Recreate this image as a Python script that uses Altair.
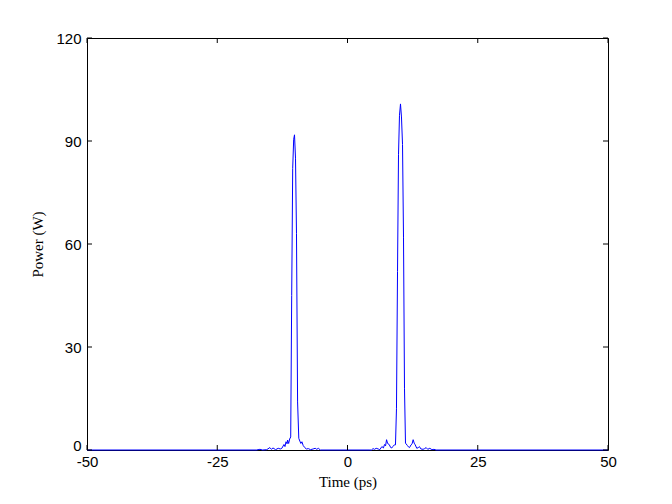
import altair as alt
import pandas as pd

# Time (ps) and power (W) samples
time_ps = [
    -50.0, -17.5, -16.8, -16.3, -15.5, -14.9, -14.6, -14.3, -13.8, -13.3, -12.9, -12.6,
    -12.2, -12.0, -11.8, -11.6, -11.5, -11.3, -11.1,
    -10.90, -10.71, -10.52, -10.33, -10.17, -9.98, -9.79, -9.58, -9.35,
    -9.15, -8.95, -8.75, -8.5, -8.2, -7.9, -7.5, -7.1, -6.6, -6.2, -5.9, -5.6, -5.2,
    4.3, 4.6, 4.9, 5.2, 5.5, 5.9, 6.2, 6.6, 6.9, 7.1, 7.3, 7.5, 7.7, 8.0, 8.3, 8.5, 8.7, 9.0,
    9.21, 9.40, 9.60, 9.79, 9.98, 10.17, 10.36, 10.56, 10.75, 10.94, 11.13,
    11.5, 11.7, 11.9, 12.2, 12.4, 12.6, 12.8, 13.0, 13.3, 13.6, 13.8, 14.1, 14.5, 14.8,
    15.1, 15.4, 15.8, 16.2, 16.6, 17.0, 50.0,
]
power_w = [
    0.0, 0.0, 0.2, 0.0, 0.1, 0.7, 0.2, 0.6, 0.1, 0.5, 0.3, 0.5,
    1.6, 1.0, 2.4, 1.8, 2.9, 1.9, 3.2,
    3.8, 45.0, 82.0, 90.5, 91.8, 85.0, 63.0, 14.0, 3.4,
    2.6, 1.9, 2.4, 1.3, 0.7, 0.3, 0.4, 0.1, 0.3, 0.5, 0.2, 0.5, 0.0,
    0.0, 0.0, 0.4, 0.2, 0.5, 0.3, 0.1, 1.0, 0.6, 1.6, 1.2, 3.0, 1.9, 1.6, 0.7, 0.6, 1.0, 1.5,
    1.5, 12.0, 52.0, 86.0, 97.5, 100.8, 97.0, 89.0, 62.0, 18.0, 2.0,
    1.3, 0.9, 0.7, 1.5, 1.8, 3.0, 2.0, 1.5, 0.5, 0.7, 1.0, 0.3, 0.2, 0.4,
    0.7, 0.2, 0.5, 0.1, 0.2, 0.0, 0.0,
]

x_ticks = [-50, -25, 0, 25, 50]
y_ticks = [0, 30, 60, 90, 120]

W, H = 521, 412
TICK = 5

df = pd.DataFrame({"t": time_ps, "P": power_w})
xt = pd.DataFrame({"xt": x_ticks})
yt = pd.DataFrame({"yt": y_ticks})

xscale = alt.Scale(domain=[-50, 50], nice=False, zero=False)
yscale = alt.Scale(domain=[0, 120], nice=False)

line = alt.Chart(df).mark_line(color="#0000ff", strokeWidth=1).encode(
    x=alt.X(
        "t:Q",
        scale=xscale,
        axis=alt.Axis(
            values=x_ticks,
            ticks=False,
            domain=False,
            grid=False,
            labelFlush=False,
            labelExpr="'' + datum.value",
            labelFont="Liberation Sans",
            labelFontSize=15,
            labelColor="black",
            labelPadding=4,
            title="Time (ps)",
            titleFont="Liberation Serif",
            titleFontSize=15,
            titleFontWeight="normal",
            titleColor="black",
            titlePadding=5,
        ),
    ),
    y=alt.Y(
        "P:Q",
        scale=yscale,
        axis=alt.Axis(
            values=y_ticks,
            ticks=False,
            domain=False,
            grid=False,
            labelFlush=False,
            labelFont="Liberation Sans",
            labelFontSize=15,
            labelColor="black",
            labelPadding=6,
            labelBaseline=alt.ExprRef("datum.value == 0 ? 'alphabetic' : 'middle'"),
            title="Power (W)",
            titleFont="Liberation Serif",
            titleFontSize=15,
            titleFontWeight="normal",
            titleColor="black",
            titlePadding=10,
        ),
    ),
)

bottom_ticks = alt.Chart(xt).mark_rule(color="black", strokeWidth=1).encode(
    x=alt.X("xt:Q", scale=xscale),
    y=alt.value(H),
    y2=alt.value(H - TICK),
)
top_ticks = alt.Chart(xt).mark_rule(color="black", strokeWidth=1).encode(
    x=alt.X("xt:Q", scale=xscale),
    y=alt.value(0),
    y2=alt.value(TICK),
)
left_ticks = alt.Chart(yt).mark_rule(color="black", strokeWidth=1).encode(
    y=alt.Y("yt:Q", scale=yscale),
    x=alt.value(0),
    x2=alt.value(TICK),
)
right_ticks = alt.Chart(yt).mark_rule(color="black", strokeWidth=1).encode(
    y=alt.Y("yt:Q", scale=yscale),
    x=alt.value(W),
    x2=alt.value(W - TICK),
)

chart = (
    alt.layer(line, bottom_ticks, top_ticks, left_ticks, right_ticks)
    .properties(
        width=W,
        height=H,
        autosize=alt.AutoSizeParams(type="none"),
        padding={"left": 79, "top": 30, "right": 48, "bottom": 46},
        background="white",
    )
    .configure_view(stroke="black", strokeWidth=1)
)

chart.save("out.html", embed_options={"renderer": "svg", "actions": False})
